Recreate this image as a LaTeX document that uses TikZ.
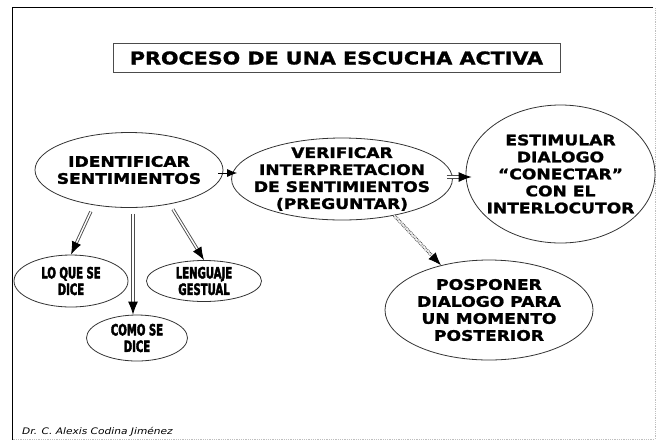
\documentclass[tikz,border=0pt]{standalone}
\usepackage{fontspec}
\setmainfont{DejaVu Sans}[FakeStretch=1.18, BoldFeatures={FakeBold=1.5}]
\newfontfamily\narrowfont{DejaVu Sans}[FakeStretch=0.65, BoldFeatures={FakeBold=2.5}]
\usetikzlibrary{shapes.geometric,arrows.meta}

\begin{document}
\begin{tikzpicture}[x=1pt, y=-1pt]
  \tikzset{bubble/.style={draw=black!80, line width=0.8pt, ellipse, inner sep=-10pt, align=center,
      font=\bfseries\fontsize{14.5}{17}\selectfont},
    smallbubble/.style={bubble, font=\narrowfont\bfseries\fontsize{15.5}{16.5}\selectfont},
    link/.style={draw=gray!60!black, double=white, double distance=1.4pt, line width=0.9pt,
      -{Latex[color=black,fill=black,length=13pt,width=10pt]}}}
  \useasboundingbox (0,0) rectangle (660,440);
  % page frame: solid top and left, dotted right and bottom
  \draw[line width=1.2pt] (653,7.5) -- (12.7,7.5) -- (12.7,440);
  \draw[gray!50, densely dotted, line width=0.8pt] (655,8) -- (655,439) -- (12.7,439);
  % title
  \node[draw=black!70, line width=0.8pt, minimum width=447, minimum height=29, inner sep=0pt,
    font=\bfseries\fontsize{17.5}{20}\selectfont] (title) at (336.5,58) {PROCESO DE UNA ESCUCHA ACTIVA};
  % main chain
  \node[bubble, minimum width=188, minimum height=75] (ident) at (129,170) {IDENTIFICAR\\SENTIMIENTOS};
  \node[bubble, minimum width=210, minimum height=82] (verif) at (342,179)
    {VERIFICAR\\INTERPRETACION\\DE SENTIMIENTOS\\(PREGUNTAR)};
  \node[bubble, minimum width=189, minimum height=138] (estim) at (560.5,174)
    {ESTIMULAR\\DIALOGO\\``CONECTAR''\\CON EL\\INTERLOCUTOR};
  \node[bubble, minimum width=208, minimum height=100] (posp) at (489,310)
    {POSPONER\\DIALOGO PARA\\UN MOMENTO\\POSTERIOR};
  % what is heard
  \node[smallbubble, minimum width=114, minimum height=52] (loque) at (71,281) {LO QUE SE\\DICE};
  \node[smallbubble, minimum width=115, minimum height=41] (gestual) at (204,281) {LENGUAJE\\GESTUAL};
  \node[smallbubble, minimum width=101, minimum height=46] (como) at (137,338) {COMO SE\\DICE};
  \coordinate (comotop) at ([xshift=-4pt]como.north);

  \draw[line width=1pt, -{Latex[length=10pt,width=8pt]}] ([shift={(-5,3)}]ident.east) -- ([shift={(6,-6)}]verif.west);
  \draw[link] ([shift={(-6,-2)}]verif.east) -- ([shift={(6,3)}]estim.west);
  \draw[link, densely dotted] (verif.-35) -- (posp.137);
  \draw[link, shorten <=7pt] (ident.225) -- (loque.north);
  \draw[link, shorten <=6pt] (ident.south -| comotop) -- (comotop);
  \draw[link, shorten <=6pt] (ident.-40) -- (gestual.north);

  \node[anchor=west, inner sep=0pt, font=\itshape\fontsize{9}{11}\selectfont] (author) at (22,432)
    {Dr. C. Alexis Codina Jiménez};
\end{tikzpicture}
\end{document}
